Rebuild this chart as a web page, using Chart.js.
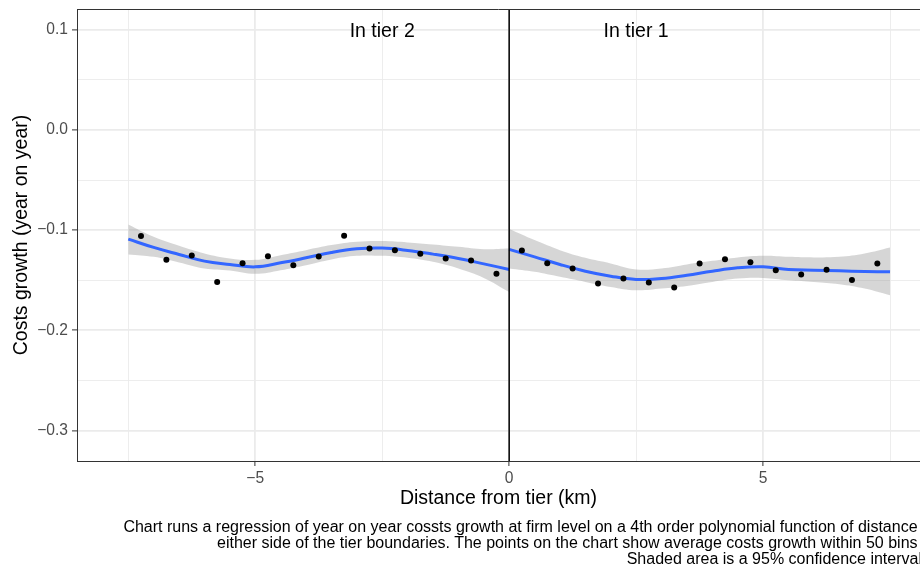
<!DOCTYPE html>
<html>
<head>
<meta charset="utf-8">
<script src="https://cdn.jsdelivr.net/npm/chart.js@4.4.1/dist/chart.umd.min.js"></script>
<style>
  html, body { margin: 0; padding: 0; background: #fff; overflow: hidden; width: 920px; height: 570px; }
  #wrap { position: absolute; left: 0; top: 0; width: 920px; height: 520px; }
  #caption {
    position: absolute; left: 0; top: 519px; width: 922px;
    font-family: "Liberation Sans", Arial, sans-serif; font-size: 16px; line-height: 16px;
    color: #000; text-align: right; white-space: pre;
  }
</style>
</head>
<body>
<div id="wrap"><canvas id="chart"></canvas></div>
<div id="caption">Chart runs a regression of year on year cossts growth at firm level on a 4th order polynomial function of distance 
either side of the tier boundaries. The points on the chart show average costs growth within 50 bins 
Shaded area is a 95% confidence interval</div>
<script>
// Puntos: media por bin
const binX2 = [-7.25, -6.75, -6.25, -5.75, -5.25, -4.75, -4.25, -3.75, -3.25, -2.75, -2.25, -1.75, -1.25, -0.75, -0.25];
const binY2 = [-0.106, -0.1297, -0.1253, -0.1517, -0.133, -0.126, -0.135, -0.1263, -0.1057, -0.1183, -0.120, -0.1237, -0.1283, -0.1303, -0.1437];
const binX1 = [0.25, 0.75, 1.25, 1.75, 2.25, 2.75, 3.25, 3.75, 4.25, 4.75, 5.25, 5.75, 6.25, 6.75, 7.25];
const binY1 = [-0.1203, -0.133, -0.1383, -0.1533, -0.1483, -0.1523, -0.1573, -0.1333, -0.129, -0.132, -0.140, -0.1443, -0.1397, -0.1497, -0.1333];

// Ajuste polinómico y banda de confianza
const fitX2 = [-7.5, -7, -6.5, -6, -5.5, -5, -4.5, -4, -3.5, -3, -2.5, -2, -1.5, -1, -0.5, 0];
const fitY2 = [-0.109, -0.1173, -0.1243, -0.131, -0.1343, -0.1367, -0.1327, -0.1277, -0.1223, -0.1187, -0.118, -0.1203, -0.124, -0.1283, -0.1337, -0.1393];
const ciHi2 = [-0.0943, -0.1067, -0.1157, -0.1233, -0.1283, -0.1297, -0.125, -0.120, -0.115, -0.1117, -0.111, -0.1123, -0.1143, -0.1167, -0.119, -0.1183];
const ciLo2 = [-0.1243, -0.1267, -0.1323, -0.1383, -0.1403, -0.1437, -0.140, -0.135, -0.1293, -0.1257, -0.1257, -0.1277, -0.1317, -0.1383, -0.1477, -0.1617];

const fitX1 = [0, 0.5, 1, 1.5, 2, 2.5, 3, 3.5, 4, 4.5, 5, 5.5, 6, 6.5, 7, 7.5];
const fitY1 = [-0.1193, -0.1267, -0.1343, -0.141, -0.146, -0.1493, -0.1483, -0.145, -0.141, -0.1377, -0.1367, -0.1393, -0.140, -0.1407, -0.1413, -0.1417];
const ciHi1 = [-0.099, -0.110, -0.120, -0.1277, -0.1333, -0.1393, -0.1383, -0.1343, -0.1307, -0.1273, -0.1257, -0.1267, -0.1273, -0.1267, -0.1233, -0.1173];
const ciLo1 = [-0.1383, -0.1417, -0.1467, -0.1517, -0.1567, -0.160, -0.1583, -0.1557, -0.1517, -0.1483, -0.1477, -0.150, -0.1517, -0.154, -0.1583, -0.165];

// Ejes
const xTicks = [-7.5, -5, -2.5, 0, 2.5, 5, 7.5];
const xLabels = [-5, 0, 5];
const yTicks = [-0.3, -0.25, -0.2, -0.15, -0.1, -0.05, 0, 0.05, 0.1];
const yLabels = [-0.3, -0.2, -0.1, 0, 0.1];
const xRange = [-8.51, 8.09];
const yRange = [-0.3305, 0.1207];
const tierLabels = [{ x: -2.5, y: 0.1, text: "In tier 2" }, { x: 2.5, y: 0.1, text: "In tier 1" }];

const FONT = '"Liberation Sans", Arial, Helvetica, sans-serif';
const pts = (xs, ys) => xs.map((x, i) => ({ x: x, y: ys[i] }));
const isMajor = (v, list) => list.some(l => Math.abs(l - v) < 1e-9);
const fmtY = v => (v < -1e-9 ? "\u2212" : "") + Math.abs(v).toFixed(1);
const fmtX = v => (v < 0 ? "\u2212" : "") + Math.abs(v);

const BAND = "rgba(153,153,153,0.4)";
const BLUE = "#3366FF";

const bandSet = (data, fill) => ({
    data: data, showLine: true, fill: fill, backgroundColor: BAND,
    borderWidth: 0, borderColor: "rgba(0,0,0,0)", pointRadius: 0, tension: 0.4, order: 3
});
const fitSet = data => ({
    data: data, showLine: true, borderColor: BLUE, borderWidth: 3,
    pointRadius: 0, tension: 0.4, fill: false, order: 2
});
const dotSet = data => ({
    data: data, showLine: false, pointRadius: 3, pointBackgroundColor: "#000",
    pointBorderWidth: 0, order: 1
});

// sin relleno extra alrededor de las etiquetas de los extremos
const noEdgePadding = s => {
    s.paddingTop = 0; s.paddingBottom = 0; s.paddingLeft = 0; s.paddingRight = 0;
};

const panelPlugin = {
    id: "panel",
    afterDatasetsDraw(chart) {
        const { ctx, chartArea, scales } = chart;
        ctx.save();
        // borde superior del panel
        ctx.strokeStyle = "#333";
        ctx.lineWidth = 1;
        ctx.beginPath();
        ctx.moveTo(chartArea.left, chartArea.top + 0.5);
        ctx.lineTo(chartArea.right, chartArea.top + 0.5);
        ctx.stroke();
        // etiquetas de tier
        ctx.fillStyle = "#000";
        ctx.font = "19.5px " + FONT;
        ctx.textAlign = "center";
        ctx.textBaseline = "alphabetic";
        tierLabels.forEach(t => {
            ctx.fillText(t.text, scales.x.getPixelForValue(t.x), scales.y.getPixelForValue(t.y) + 7);
        });
        ctx.restore();
    }
};

const ctx = document.getElementById("chart").getContext("2d");
new Chart(ctx, {
    type: "scatter",
    data: {
        datasets: [
            { data: [{ x: 0, y: yRange[0] }, { x: 0, y: yRange[1] }], showLine: true, borderColor: "#000",
              borderWidth: 1.5, pointRadius: 0, order: 0 },
            dotSet(pts(binX2, binY2)),
            dotSet(pts(binX1, binY1)),
            fitSet(pts(fitX2, fitY2)),
            fitSet(pts(fitX1, fitY1)),
            bandSet(pts(fitX2, ciHi2), "+1"),
            bandSet(pts(fitX2, ciLo2), false),
            bandSet(pts(fitX1, ciHi1), "+1"),
            bandSet(pts(fitX1, ciLo1), false)
        ]
    },
    options: {
        responsive: true,
        maintainAspectRatio: false,
        animation: false,
        layout: { autoPadding: false, padding: { top: 9, left: 0, right: 0, bottom: 0 } },
        plugins: { legend: { display: false }, tooltip: { enabled: false } },
        scales: {
            x: {
                type: "linear", min: xRange[0], max: xRange[1],
                afterBuildTicks: s => { s.ticks = xTicks.map(v => ({ value: v })); },
                afterFit: s => { s.height = 59; noEdgePadding(s); },
                ticks: {
                    autoSkip: false, maxRotation: 0, padding: 3, color: "#4d4d4d",
                    font: { family: FONT, size: 15.6 },
                    callback: v => isMajor(v, xLabels) ? fmtX(v) : ""
                },
                grid: {
                    color: "#ebebeb",
                    lineWidth: c => isMajor(c.tick.value, xLabels) ? 1.8 : 0.9,
                    tickLength: 5,
                    tickColor: c => isMajor(c.tick.value, xLabels) ? "#333" : "rgba(0,0,0,0)",
                    tickWidth: 1
                },
                border: { display: true, color: "#333", width: 1 },
                title: {
                    display: true, text: "Distance from tier (km)", color: "#000",
                    font: { family: FONT, size: 19.5 }, padding: { top: 0, bottom: 10 }
                }
            },
            y: {
                type: "linear", min: yRange[0], max: yRange[1],
                afterBuildTicks: s => { s.ticks = yTicks.map(v => ({ value: v })); },
                afterFit: s => { s.width = 77; noEdgePadding(s); },
                ticks: {
                    autoSkip: false, padding: 4, color: "#4d4d4d",
                    font: { family: FONT, size: 15.6 },
                    callback: v => isMajor(v, yLabels) ? fmtY(v) : ""
                },
                grid: {
                    color: "#ebebeb",
                    lineWidth: c => isMajor(c.tick.value, yLabels) ? 1.8 : 0.9,
                    tickLength: 5,
                    tickColor: c => isMajor(c.tick.value, yLabels) ? "#333" : "rgba(0,0,0,0)",
                    tickWidth: 1
                },
                border: { display: true, color: "#333", width: 1 },
                title: {
                    display: true, text: "Costs growth (year on year)", color: "#000",
                    font: { family: FONT, size: 19.5 }, padding: { top: 10, bottom: 0 }
                }
            }
        }
    },
    plugins: [panelPlugin]
});
</script>
</body>
</html>
